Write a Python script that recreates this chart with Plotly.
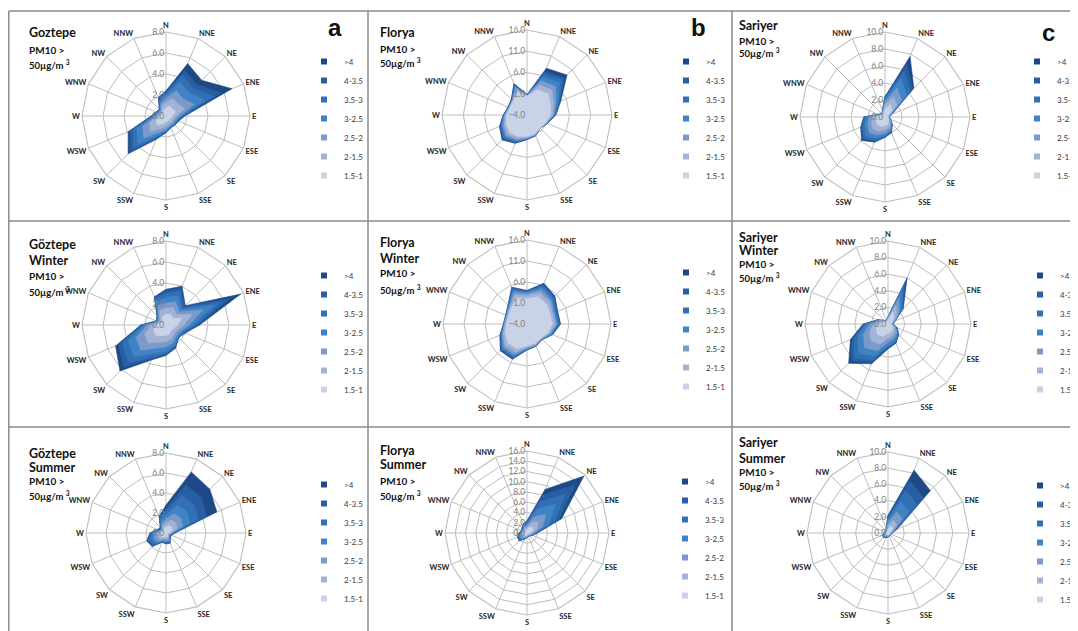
import plotly.graph_objects as go

W, H = 1078, 631
OX, OY = 8, 8   # the page body margin shifts the figure by 8px

directions = ["N", "NNE", "NE", "ENE", "E", "ESE", "SE", "SSE",
              "S", "SSW", "SW", "WSW", "W", "WNW", "NW", "NNW"]
# legend order (outer -> inner)
series_names = [">4", "4-3.5", "3.5-3", "3-2.5", "2.5-2", "2-1.5", "1.5-1"]
series_colors = ["#1d4a87", "#285ea2", "#3270b5", "#4083c5", "#7a9acb", "#a2b3d5", "#c9d3e7"]

# ---- values (increments of each speed class per direction) ----
goztepe_all = {
    "1.5-1": [0.8, 1.0, 0.9, 1.0, 0.6, 0.5, 0.5, 0.5, 0.6, 0.8, 1.2, 1.0, 0.5, 0.4, 0.4, 0.6],
    "2-1.5": [0.5, 0.8, 0.7, 0.9, 0.4, 0.3, 0.3, 0.3, 0.4, 0.5, 0.9, 0.7, 0.3, 0.2, 0.2, 0.4],
    "2.5-2": [0.4, 0.8, 0.7, 1.0, 0.3, 0.2, 0.2, 0.2, 0.3, 0.4, 0.9, 0.7, 0.2, 0.2, 0.1, 0.3],
    "3-2.5": [0.3, 0.9, 0.8, 1.1, 0.2, 0.1, 0.1, 0.1, 0.1, 0.3, 0.8, 0.6, 0.2, 0.1, 0.1, 0.2],
    "3.5-3": [0.2, 0.7, 0.6, 0.9, 0.1, 0.1, 0.1, 0.1, 0.1, 0.2, 0.6, 0.4, 0.1, 0.1, 0.1, 0.2],
    "4-3.5": [0.1, 0.5, 0.5, 0.8, 0.1, 0.05, 0.0, 0.0, 0.05, 0.1, 0.4, 0.3, 0.1, 0.0, 0.0, 0.1],
    ">4":    [0.1, 0.7, 0.6, 1.1, 0.1, 0.05, 0.0, 0.0, 0.05, 0.1, 0.3, 0.2, 0.0, 0.0, 0.0, 0.1],
}
florya_all = {
    "1.5-1": [0.4, 2.5, 3.0, 2.0, 1.5, 0.7, 0.3, 0.8, 1.0, 1.5, 1.8, 1.3, 0.8, 0.4, 0.6, 1.8],
    "2-1.5": [0.1, 1.2, 1.3, 0.8, 0.5, 0.2, 0.1, 0.2, 0.3, 0.5, 0.7, 0.5, 0.3, 0.1, 0.2, 0.7],
    "2.5-2": [0.1, 1.0, 1.2, 0.6, 0.3, 0.1, 0.0, 0.1, 0.2, 0.4, 0.5, 0.4, 0.2, 0.1, 0.1, 0.5],
    "3-2.5": [0.1, 1.0, 1.2, 0.5, 0.2, 0.1, 0.0, 0.1, 0.1, 0.3, 0.5, 0.3, 0.1, 0.1, 0.1, 0.4],
    "3.5-3": [0.05, 0.8, 1.0, 0.3, 0.1, 0.05, 0.0, 0.05, 0.1, 0.2, 0.3, 0.2, 0.1, 0.05, 0.1, 0.3],
    "4-3.5": [0.05, 0.6, 0.7, 0.2, 0.1, 0.05, 0.0, 0.05, 0.05, 0.2, 0.3, 0.2, 0.1, 0.05, 0.1, 0.2],
    ">4":    [0.0, 0.8, 0.9, 0.2, 0.1, 0.0, 0.0, 0.0, 0.05, 0.1, 0.2, 0.1, 0.0, 0.0, 0.0, 0.1],
}
sariyer_all = {
    "1.5-1": [0.9, 1.6, 1.2, 0.4, 0.3, 0.4, 0.6, 0.9, 1.0, 1.2, 1.3, 1.1, 1.0, 0.4, 0.3, 0.4],
    "2-1.5": [0.5, 1.0, 0.8, 0.2, 0.1, 0.1, 0.2, 0.4, 0.5, 0.6, 0.7, 0.6, 0.5, 0.2, 0.1, 0.2],
    "2.5-2": [0.4, 1.1, 0.8, 0.1, 0.05, 0.1, 0.2, 0.3, 0.4, 0.5, 0.6, 0.5, 0.4, 0.1, 0.05, 0.1],
    "3-2.5": [0.3, 1.2, 0.8, 0.1, 0.05, 0.05, 0.1, 0.2, 0.3, 0.4, 0.5, 0.4, 0.3, 0.05, 0.05, 0.05],
    "3.5-3": [0.2, 1.0, 0.6, 0.05, 0.0, 0.05, 0.05, 0.1, 0.1, 0.3, 0.4, 0.3, 0.2, 0.05, 0.0, 0.05],
    "4-3.5": [0.1, 0.8, 0.4, 0.05, 0.0, 0.0, 0.05, 0.1, 0.05, 0.1, 0.2, 0.1, 0.1, 0.0, 0.0, 0.0],
    ">4":    [0.0, 1.0, 0.2, 0.0, 0.0, 0.0, 0.0, 0.0, 0.05, 0.1, 0.2, 0.1, 0.0, 0.0, 0.0, 0.0],
}
goztepe_winter = {
    "1.5-1": [1.0, 1.1, 0.9, 1.6, 1.1, 0.8, 0.7, 0.9, 1.0, 1.1, 1.4, 1.3, 0.9, 0.5, 0.5, 0.9],
    "2-1.5": [0.6, 0.7, 0.5, 1.1, 0.6, 0.4, 0.4, 0.5, 0.6, 0.7, 1.0, 0.9, 0.5, 0.2, 0.3, 0.6],
    "2.5-2": [0.5, 0.6, 0.4, 1.1, 0.5, 0.3, 0.3, 0.4, 0.5, 0.6, 1.0, 0.9, 0.4, 0.1, 0.2, 0.5],
    "3-2.5": [0.5, 0.6, 0.3, 1.1, 0.4, 0.2, 0.2, 0.3, 0.4, 0.5, 0.9, 0.8, 0.3, 0.1, 0.1, 0.4],
    "3.5-3": [0.4, 0.5, 0.2, 0.9, 0.3, 0.15, 0.1, 0.15, 0.2, 0.4, 0.8, 0.6, 0.2, 0.1, 0.1, 0.3],
    "4-3.5": [0.3, 0.3, 0.2, 0.8, 0.2, 0.1, 0.0, 0.1, 0.1, 0.2, 0.6, 0.4, 0.1, 0.0, 0.0, 0.2],
    ">4":    [0.1, 0.2, 0.1, 1.1, 0.1, 0.05, 0.0, 0.05, 0.1, 0.1, 0.5, 0.3, 0.0, 0.0, 0.0, 0.0],
}
florya_winter = {
    "1.5-1": [2.0, 3.0, 2.6, 2.0, 2.0, 1.4, 0.7, 1.0, 1.2, 2.4, 2.4, 1.6, 0.9, 0.8, 1.3, 2.6],
    "2-1.5": [0.7, 1.1, 0.9, 0.6, 0.7, 0.4, 0.2, 0.3, 0.4, 0.9, 0.9, 0.5, 0.3, 0.3, 0.4, 0.9],
    "2.5-2": [0.5, 0.8, 0.6, 0.4, 0.4, 0.3, 0.1, 0.2, 0.2, 0.6, 0.6, 0.3, 0.2, 0.2, 0.3, 0.7],
    "3-2.5": [0.4, 0.6, 0.5, 0.3, 0.3, 0.2, 0.1, 0.1, 0.2, 0.5, 0.4, 0.2, 0.1, 0.1, 0.2, 0.5],
    "3.5-3": [0.2, 0.5, 0.4, 0.3, 0.3, 0.15, 0.05, 0.05, 0.1, 0.3, 0.3, 0.2, 0.05, 0.05, 0.1, 0.4],
    "4-3.5": [0.1, 0.3, 0.2, 0.2, 0.2, 0.1, 0.05, 0.05, 0.05, 0.2, 0.2, 0.1, 0.05, 0.05, 0.05, 0.2],
    ">4":    [0.1, 0.2, 0.2, 0.1, 0.1, 0.05, 0.0, 0.0, 0.05, 0.2, 0.2, 0.1, 0.0, 0.0, 0.05, 0.2],
}
sariyer_winter = {
    "1.5-1": [0.5, 1.6, 1.0, 0.5, 0.3, 0.6, 0.8, 1.0, 1.1, 1.6, 1.8, 1.5, 1.1, 0.6, 0.3, 0.3],
    "2-1.5": [0.2, 0.9, 0.5, 0.2, 0.1, 0.2, 0.4, 0.5, 0.6, 1.0, 1.1, 0.9, 0.6, 0.3, 0.1, 0.1],
    "2.5-2": [0.1, 0.9, 0.4, 0.1, 0.1, 0.2, 0.3, 0.4, 0.5, 0.9, 1.1, 0.8, 0.5, 0.2, 0.1, 0.05],
    "3-2.5": [0.05, 0.9, 0.3, 0.05, 0.05, 0.1, 0.2, 0.3, 0.4, 0.7, 1.0, 0.7, 0.4, 0.1, 0.05, 0.05],
    "3.5-3": [0.05, 0.7, 0.2, 0.05, 0.05, 0.1, 0.1, 0.2, 0.2, 0.5, 0.8, 0.5, 0.2, 0.1, 0.05, 0.0],
    "4-3.5": [0.0, 0.5, 0.1, 0.0, 0.0, 0.0, 0.0, 0.1, 0.1, 0.3, 0.5, 0.3, 0.1, 0.0, 0.0, 0.0],
    ">4":    [0.0, 0.5, 0.1, 0.0, 0.0, 0.0, 0.0, 0.0, 0.1, 0.2, 0.4, 0.2, 0.1, 0.0, 0.0, 0.0],
}
goztepe_summer = {
    "1.5-1": [0.6, 0.8, 0.8, 0.7, 0.3, 0.2, 0.2, 0.4, 0.4, 0.4, 0.6, 0.6, 0.5, 0.3, 0.3, 0.5],
    "2-1.5": [0.4, 0.6, 0.6, 0.5, 0.2, 0.1, 0.1, 0.2, 0.2, 0.2, 0.3, 0.3, 0.3, 0.2, 0.2, 0.3],
    "2.5-2": [0.4, 0.7, 0.7, 0.6, 0.1, 0.1, 0.1, 0.2, 0.2, 0.2, 0.3, 0.4, 0.3, 0.1, 0.1, 0.3],
    "3-2.5": [0.4, 0.9, 0.9, 0.8, 0.1, 0.1, 0.1, 0.1, 0.1, 0.1, 0.3, 0.3, 0.2, 0.1, 0.1, 0.3],
    "3.5-3": [0.4, 1.1, 1.0, 0.9, 0.1, 0.05, 0.05, 0.1, 0.1, 0.05, 0.2, 0.3, 0.2, 0.1, 0.05, 0.2],
    "4-3.5": [0.3, 1.1, 1.0, 0.9, 0.05, 0.05, 0.05, 0.05, 0.05, 0.05, 0.1, 0.1, 0.1, 0.1, 0.05, 0.1],
    ">4":    [0.3, 1.4, 1.2, 1.1, 0.05, 0.0, 0.0, 0.05, 0.05, 0.0, 0.1, 0.1, 0.0, 0.0, 0.0, 0.1],
}
florya_summer = {
    "1.5-1": [0.6, 1.2, 1.6, 1.2, 0.6, 0.4, 0.3, 0.3, 0.4, 0.5, 0.6, 0.6, 0.5, 0.4, 0.5, 0.6],
    "2-1.5": [0.4, 1.0, 1.5, 1.0, 0.4, 0.3, 0.2, 0.2, 0.2, 0.3, 0.4, 0.4, 0.3, 0.3, 0.3, 0.4],
    "2.5-2": [0.4, 1.2, 2.0, 1.1, 0.4, 0.2, 0.1, 0.1, 0.1, 0.2, 0.4, 0.4, 0.3, 0.2, 0.2, 0.3],
    "3-2.5": [0.4, 1.6, 2.8, 1.3, 0.3, 0.1, 0.1, 0.05, 0.1, 0.1, 0.4, 0.3, 0.2, 0.1, 0.2, 0.3],
    "3.5-3": [0.3, 1.6, 2.9, 1.2, 0.2, 0.1, 0.05, 0.05, 0.05, 0.1, 0.2, 0.2, 0.2, 0.1, 0.1, 0.2],
    "4-3.5": [0.2, 1.4, 2.5, 0.9, 0.1, 0.05, 0.05, 0.0, 0.05, 0.05, 0.1, 0.1, 0.1, 0.1, 0.1, 0.1],
    ">4":    [0.1, 1.2, 2.4, 0.6, 0.0, 0.05, 0.0, 0.0, 0.0, 0.05, 0.1, 0.0, 0.0, 0.0, 0.0, 0.0],
}
sariyer_summer = {
    "1.5-1": [0.5, 0.9, 0.8, 0.4, 0.2, 0.2, 0.2, 0.2, 0.2, 0.2, 0.3, 0.3, 0.2, 0.2, 0.2, 0.2],
    "2-1.5": [0.4, 0.8, 0.7, 0.2, 0.1, 0.1, 0.1, 0.1, 0.1, 0.1, 0.2, 0.1, 0.1, 0.1, 0.1, 0.1],
    "2.5-2": [0.4, 1.1, 1.0, 0.2, 0.1, 0.05, 0.05, 0.05, 0.1, 0.1, 0.1, 0.1, 0.1, 0.05, 0.05, 0.1],
    "3-2.5": [0.3, 1.4, 1.2, 0.2, 0.05, 0.05, 0.05, 0.05, 0.05, 0.1, 0.1, 0.1, 0.05, 0.05, 0.05, 0.1],
    "3.5-3": [0.3, 1.5, 1.3, 0.1, 0.05, 0.0, 0.0, 0.0, 0.05, 0.05, 0.05, 0.05, 0.05, 0.0, 0.0, 0.05],
    "4-3.5": [0.2, 1.3, 1.2, 0.1, 0.0, 0.0, 0.0, 0.0, 0.0, 0.05, 0.05, 0.05, 0.0, 0.0, 0.0, 0.05],
    ">4":    [0.1, 1.4, 1.2, 0.0, 0.0, 0.0, 0.0, 0.0, 0.0, 0.0, 0.0, 0.0, 0.0, 0.0, 0.0, 0.0],
}

# ---- panel layout (pixel positions in the picture) ----
panels = [
    dict(data=goztepe_all, c=(166, 116), r=84, rng=[0, 8], dt=2, tx=27,
         title=[("Goztepe", 12.5, 33), ("PM10 >", 10, 50), ("50µg/m <sup>3</sup>", 9.5, 65)],
         leg=(334, 61), letter=("a", 335, 28)),
    dict(data=florya_all, c=(527, 115), r=85, rng=[-4, 16], dt=5, tx=378,
         title=[("Florya", 12.5, 33), ("PM10 >", 10, 49), ("50µg/m <sup>3</sup>", 9.5, 63)],
         leg=(696, 61), letter=("b", 698, 27)),
    dict(data=sariyer_all, c=(885, 117), r=85, rng=[0, 10], dt=2, tx=737,
         title=[("Sariyer", 12.5, 26), ("PM10 >", 10, 41), ("50µg/m <sup>3</sup>", 9.5, 53)],
         leg=(1047, 61), letter=("c", 1048, 32)),
    dict(data=goztepe_winter, c=(166, 325), r=84, rng=[0, 8], dt=2, tx=27,
         title=[("Göztepe", 12.5, 244), ("Winter", 12.5, 261), ("PM10 >", 10, 276), ("50µg/m <sup>3</sup>", 9.5, 291)],
         leg=(334, 275), letter=None),
    dict(data=florya_winter, c=(527, 324), r=84, rng=[-4, 16], dt=5, tx=378,
         title=[("Florya", 12.5, 242), ("Winter", 12.5, 258), ("PM10 >", 10, 273), ("50µg/m <sup>3</sup>", 9.5, 290)],
         leg=(696, 272), letter=None),
    dict(data=sariyer_winter, c=(888, 324), r=83, rng=[0, 10], dt=2, tx=737,
         title=[("Sariyer", 12.5, 237), ("Winter", 12.5, 250), ("PM10 >", 10, 264), ("50µg/m <sup>3</sup>", 9.5, 277)],
         leg=(1050, 275), letter=None),
    dict(data=goztepe_summer, c=(166, 533), r=80, rng=[0, 8], dt=2, tx=27,
         title=[("Göztepe", 12.5, 453), ("Summer", 12.5, 467), ("PM10 >", 10, 481), ("50µg/m <sup>3</sup>", 9.5, 495)],
         leg=(334, 484), letter=None),
    dict(data=florya_summer, c=(527, 533), r=82, rng=[0, 16], dt=2, tx=378,
         title=[("Florya", 12.5, 450), ("Summer", 12.5, 464), ("PM10 >", 10, 481), ("50µg/m <sup>3</sup>", 9.5, 495)],
         leg=(695, 481), letter=None),
    dict(data=sariyer_summer, c=(888, 533), r=81, rng=[0, 10], dt=2, tx=737,
         title=[("Sariyer", 12.5, 443), ("Summer", 12.5, 458), ("PM10 >", 10, 472), ("50µg/m <sup>3</sup>", 9.5, 485)],
         leg=(1050, 485), letter=None),
]

inner_to_outer = series_names[::-1]


def px(x):
    return (x - OX) / W


def py(y):
    return 1 - (y - OY) / H


fig = go.Figure()
layout = dict(width=W, height=H, paper_bgcolor="white", plot_bgcolor="white",
              margin=dict(l=0, r=0, t=0, b=0, autoexpand=False),
              font=dict(family="Lato, Open Sans, sans-serif", color="#000000"),
              annotations=[], shapes=[])

for i, p in enumerate(panels):
    sp = "polar" if i == 0 else f"polar{i + 1}"
    lg = "legend" if i == 0 else f"legend{i + 1}"
    # cumulative (stacked) outlines
    run = [0.0] * len(directions)
    cum = {}
    for s in inner_to_outer:
        run = [a + b for a, b in zip(run, p["data"][s])]
        cum[s] = run
    for s, col in zip(series_names, series_colors):
        rr = cum[s] + [cum[s][0]]
        fig.add_trace(go.Scatterpolar(
            r=rr, theta=directions + [directions[0]], mode="lines", fill="toself",
            fillcolor=col, line=dict(color=col, width=0.6), name=s,
            subplot=sp, showlegend=False, hoverinfo="skip"))
    for s, col in zip(series_names, series_colors):
        fig.add_trace(go.Scatterpolar(
            r=[None], theta=[None], mode="markers", name=s, subplot=sp, legend=lg,
            marker=dict(symbol="square", size=6, color=col), showlegend=True))
    cx, cy = p["c"]
    rad = p["r"]
    layout[sp] = dict(
        domain=dict(x=[px(cx - rad), px(cx + rad)], y=[py(cy + rad), py(cy - rad)]),
        bgcolor="white", gridshape="linear",
        angularaxis=dict(type="category", categoryarray=directions, rotation=90,
                         direction="clockwise", showline=True, linecolor="#bdbdbd",
                         linewidth=1.1, gridcolor="#bdbdbd", gridwidth=1.1, ticks="",
                         tickfont=dict(size=7.5, color="#262626", weight="bold")),
        radialaxis=dict(range=p["rng"], tick0=p["rng"][0], dtick=p["dt"], tickformat=".1f",
                        angle=90, tickangle=90, side="counterclockwise", showline=False,
                        gridcolor="#bdbdbd", gridwidth=1.1, ticks="",
                        tickfont=dict(size=8.5, color="#7f7f7f")),
    )
    lx, ly = p["leg"]
    layout[lg] = dict(x=px(lx - 30), y=py(ly - 14), xanchor="left", yanchor="top",
                      bgcolor="rgba(0,0,0,0)", itemwidth=30, traceorder="normal",
                      font=dict(size=8, color="#3a3a3a"), tracegroupgap=0)
    for txt, size, y in p["title"]:
        layout["annotations"].append(dict(
            text=txt, x=px(p["tx"]), y=py(y), xref="paper", yref="paper",
            xanchor="left", yanchor="middle", showarrow=False,
            font=dict(size=size, color="#111111", weight="bold")))
    if p["letter"]:
        t, x, y = p["letter"]
        layout["annotations"].append(dict(
            text=t, x=px(x), y=py(y), xref="paper", yref="paper",
            xanchor="center", yanchor="middle", showarrow=False,
            font=dict(size=24, color="#111111", weight="bold", family="Liberation Sans, Arial")))

# panel frames
frame_col = "#8a8a8a"
for (x0, y0, x1, y1) in [(8.8, 11, W + OX, 11), (8.8, 11, 8.8, H + OY), (368, 11, 368, H + OY),
                         (732, 11, 732, H + OY), (8, 221, W + OX, 221), (8, 427, W + OX, 427)]:
    layout["shapes"].append(dict(type="line", xref="paper", yref="paper",
                                 x0=px(x0), y0=py(y0), x1=px(x1), y1=py(y1),
                                 line=dict(color=frame_col, width=1.5)))

fig.update_layout(**layout)
fig.write_html("out.html")
